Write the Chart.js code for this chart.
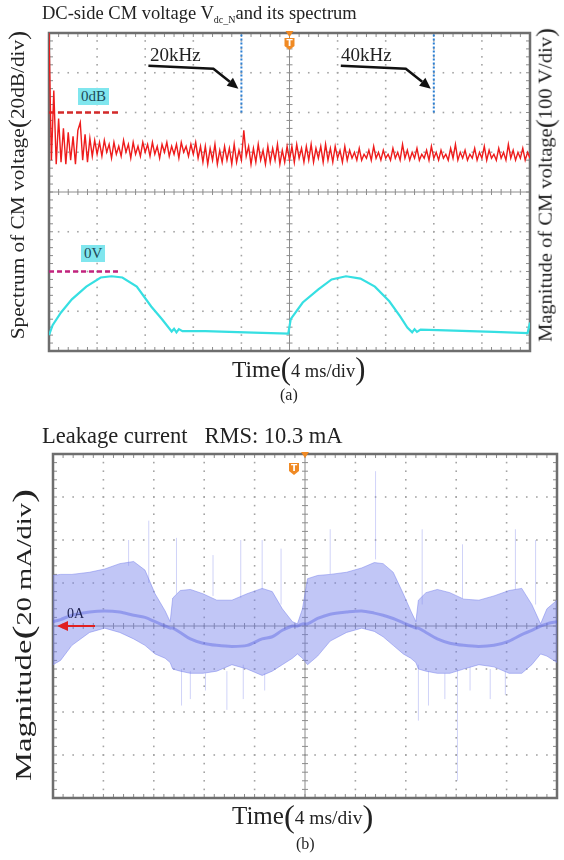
<!DOCTYPE html>
<html>
<head>
<meta charset="utf-8">
<script src="https://cdn.jsdelivr.net/npm/chart.js@4.4.1/dist/chart.umd.min.js"></script>
<style>
  body { margin:0; background:#fff; width:564px; height:860px; position:relative; overflow:hidden;
         font-family:"Liberation Serif","Times New Roman",serif; color:#222; }
  .abs { position:absolute; white-space:nowrap; line-height:1; }
  .par { font-size:1.3em; vertical-align:-0.08em; }
  .tag { background:#80e6ee; color:#1d4a58; padding:1px 3px; }
  #wrapA { position:absolute; left:0; top:0; width:564px; height:360px; }
  #wrapB { position:absolute; left:0; top:440px; width:564px; height:370px; }
</style>
</head>
<body>
<div id="wrapA"><canvas id="chartA"></canvas></div>
<div id="wrapB"><canvas id="chartB"></canvas></div>

<div class="abs" style="left:42px; top:4px; font-size:18.5px;">DC-side CM voltage V<sub style="font-size:10px; vertical-align:-4px;">dc_N</sub>and its spectrum</div>
<div class="abs" style="left:18px; top:185px; font-size:19px; transform:translate(-50%,-50%) rotate(-90deg) scaleX(1.12);">Spectrum of CM voltage<span class="par">(</span>20dB/div<span class="par">)</span></div>
<div class="abs" style="left:546px; top:185px; font-size:19px; transform:translate(-50%,-50%) rotate(-90deg) scaleX(1.08);">Magnitude of CM voltage<span class="par">(</span>100 V/div<span class="par">)</span></div>
<div class="abs" style="left:150px; top:45px; font-size:19px;">20kHz</div>
<div class="abs" style="left:341px; top:45px; font-size:19px;">40kHz</div>
<div class="abs tag" style="left:78px; top:88px; font-size:15px;">0dB</div>
<div class="abs tag" style="left:81px; top:245px; font-size:15px;">0V</div>
<div class="abs" style="left:232px; top:354px; font-size:23.5px;">Time<span class="par">(</span><span style="font-size:18.5px">4 ms/div</span><span class="par">)</span></div>
<div class="abs" style="left:280px; top:387px; font-size:16px;">(a)</div>

<div class="abs" style="left:42px; top:425px; font-size:22.5px;">Leakage current &nbsp;&nbsp;RMS: 10.3 mA</div>
<div class="abs" style="left:23px; top:635px; font-size:23px; transform:translate(-50%,-50%) rotate(-90deg) scaleX(1.42);">Magnitude<span class="par">(</span><span style="font-size:20px">20 mA/div</span><span class="par">)</span></div>
<div class="abs" style="left:67px; top:607px; font-size:14px; color:#1c2050;">0A</div>
<div class="abs" style="left:232px; top:800px; font-size:25px;">Time<span class="par">(</span><span style="font-size:19.5px">4 ms/div</span><span class="par">)</span></div>
<div class="abs" style="left:296px; top:836px; font-size:16px;">(b)</div>

<script>
// ---- (a) spectrum of DC-side CM voltage, dB, FFT bins 0.25 kHz apart (0..50 kHz)
const specDf = 0.25;
const specDb = [
  40, -24, 11, -26, -3, -25, -8, -26, -10, -24, -12, -26, -9, -5, -24, -11, -25, -13, -22, -14,
  -21, -15, -22, -14, -20, -16, -23, -15, -21, -17, -22, -14, -20, -16, -23, -15, -21, -17, -22, -15,
  -20, -16, -22, -15, -21, -17, -23, -16, -20, -15, -22, -17, -21, -16, -23, -15, -20, -17, -22, -16, -21, -15, -23, -17,
  -25, -17, -26, -18, -24, -16, -26, -19, -25, -17, -24, -18, -26, -16, -25, -19, -24, -9, -22, -17,
  -26, -18, -25, -16, -24, -19, -26, -17, -25, -18, -24, -16, -26, -19, -25, -17,
  -24, -17, -25, -16, -23, -18, -25, -17, -24, -16, -25, -18, -23, -17, -25, -16, -24, -18, -25, -17, -23, -19, -25, -17,
  -24, -19, -23, -20, -24, -18, -24, -21, -23, -19, -24, -17, -23, -20, -24, -19, -23, -21, -24, -18,
  -23, -20, -24, -16, -23, -19, -24, -20, -23, -18, -24, -21, -23, -19, -24, -17, -23, -20, -24, -19,
  -23, -21, -24, -18, -23, -16, -24, -20, -23, -19, -24, -21, -23, -18, -24, -20, -23, -17, -24, -19,
  -23, -21, -24, -18, -23, -20, -24, -16, -23, -19, -24, -20, -23, -18, -24, -20, -23
];
const markerKHz = [20, 40];

// ---- (a) CM voltage in time, ms / V
const cmT = [0, 0.3, 1.0, 1.9, 3.1, 4.3, 5.2, 6.1, 7.3, 8.5, 9.4, 10.2, 10.4, 10.6, 10.8, 11.1, 13, 15, 17, 19.9,
             20.1, 21.1, 22.4, 23.5, 24.7, 25.9, 27.1, 28.3, 29.2, 29.8, 30.2, 30.4, 30.6, 30.9, 33, 35, 37, 39.8, 40];
const cmV = [-160, -135, -103, -70, -38, -15, -12, -15, -38, -88, -120, -151, -144, -153, -145, -150, -150, -152, -154, -156,
             -120, -78, -45, -20, -12, -18, -38, -75, -113, -141, -153, -145, -152, -146, -148, -150, -152, -155, -128];

// ---- (b) leakage current envelope, ms / mA
const leakT = [0, 0.6, 1.5, 2.9, 4.1, 5.3, 6.4, 7.3, 8.1, 8.9, 9.3, 9.5, 10.1, 10.9, 11.9, 13.0, 14.2, 15.4, 16.6, 17.4, 18.2, 19.0, 19.4, 19.8,
               20.2, 21.0, 22.0, 23.3, 24.5, 25.5, 26.2, 27.0, 27.8, 28.4, 28.8, 29.0, 29.6, 30.5, 31.5, 32.6, 33.8, 35.0, 36.2, 37.2, 38.0, 38.7, 39.2, 40.0];
const leakHi = [23.5, 24, 24, 25, 26.5, 29, 30, 26, 15, 7, 2, 13, 16.5, 17, 15, 12, 12, 15, 17.5, 16, 8, 2, 1, 8,
                22, 23.5, 24, 25, 27, 29.5, 29, 25, 15, 7, 2, 12, 15.5, 17, 15.5, 12.5, 12, 14, 16.5, 17.5, 10, 1, 8, 12];
const leakLo = [-18, -16, -9, -3, -1, -3, -6, -9, -13, -15, -17, -20, -21, -22, -22, -21, -18, -20, -23, -21, -18, -15, -13, -15,
                -18, -14, -7, -3, -1, -2.5, -5, -9, -13, -15, -17, -20, -21, -22, -22, -20, -18, -19, -22, -22, -18, -13, -14, -17];
const leakMid = [2, 3, 5, 6.5, 7, 6.5, 5, 4, 2, 0, -1, -1, -3, -6, -8, -9, -9.5, -9, -6, -5, -2, 0, 0, 1,
                 1, 3.5, 5.5, 6.5, 7, 6, 5, 3.5, 1.5, 0, -1, -1, -3, -6, -8, -9, -9.5, -9, -7, -4, -2, 0, 1, 2];
// isolated spikes
const spikeT  = [6.0, 7.6, 9.8, 12.7, 14.9, 16.6, 18.1, 22.0, 25.6, 29.3, 32.5, 36.7, 38.3,
                 10.2, 10.9, 12.1, 13.8, 15.1, 16.8, 29.0, 29.8, 31.1, 32.1, 33.1, 34.7, 35.9];
const spikeLo = [28, 20, 15, 14, 13, 17, 10, 24, 31, 10, 13, 17, 10,
                 -37, -34, -30, -39, -34, -30, -44, -37, -34, -72, -30, -34, -32];
const spikeHi = [40, 49, 41, 33, 40, 40, 36, 45, 72, 45, 38, 45, 40,
                 -20, -21, -22, -21, -18, -22, -18, -21, -22, -20, -19, -20, -21];

const xy = (xs, ys) => xs.map((x, i) => ({ x, y: ys[i] }));

function drawGraticule(chart) {
  const { ctx, chartArea: { left, top, right, bottom } } = chart;
  const dx = (right - left) / 10, dy = (bottom - top) / 8;
  const cx = left + 5 * dx, cy = top + 4 * dy;
  ctx.save();
  ctx.fillStyle = '#a4a4a4';
  for (let i = 1; i < 10; i++) {
    if (i === 5) continue;
    for (let j = 1; j < 40; j++) ctx.fillRect(left + i * dx - 0.8, top + j * dy / 5 - 0.8, 1.6, 1.6);
  }
  for (let i = 1; i < 8; i++) {
    if (i === 4) continue;
    for (let j = 1; j < 50; j++) ctx.fillRect(left + j * dx / 5 - 0.8, top + i * dy - 0.8, 1.6, 1.6);
  }
  ctx.strokeStyle = '#8c8c8c';
  ctx.lineWidth = 1;
  ctx.beginPath();
  ctx.moveTo(cx, top); ctx.lineTo(cx, bottom);
  ctx.moveTo(left, cy); ctx.lineTo(right, cy);
  for (let j = 1; j < 50; j++) {
    const x = left + j * dx / 5;
    ctx.moveTo(x, cy - 3); ctx.lineTo(x, cy + 3);
    ctx.moveTo(x, top); ctx.lineTo(x, top + 4);
    ctx.moveTo(x, bottom); ctx.lineTo(x, bottom - 4);
  }
  for (let j = 1; j < 40; j++) {
    const y = top + j * dy / 5;
    ctx.moveTo(cx - 3, y); ctx.lineTo(cx + 3, y);
    ctx.moveTo(left, y); ctx.lineTo(left + 4, y);
    ctx.moveTo(right, y); ctx.lineTo(right - 4, y);
  }
  ctx.stroke();
  ctx.strokeStyle = '#6e6e6e';
  ctx.lineWidth = 2.5;
  ctx.strokeRect(left, top, right - left, bottom - top);
  ctx.restore();
}

function drawTrigger(chart, ix, iy) {
  const { ctx, chartArea: { left, right, top } } = chart;
  const cx = (left + right) / 2;
  ctx.save();
  ctx.fillStyle = '#f08a24';
  ctx.beginPath();
  ctx.moveTo(cx - 4, top - 2); ctx.lineTo(cx + 4, top - 2); ctx.lineTo(cx, top + 4); ctx.closePath();
  ctx.fill();
  ctx.beginPath();
  ctx.moveTo(ix - 5, iy); ctx.lineTo(ix + 5, iy); ctx.lineTo(ix + 5, iy + 8);
  ctx.lineTo(ix, iy + 12); ctx.lineTo(ix - 5, iy + 8); ctx.closePath();
  ctx.fill();
  ctx.fillStyle = '#fff';
  ctx.font = 'bold 9px "DejaVu Sans"';
  ctx.textAlign = 'center';
  ctx.textBaseline = 'top';
  ctx.fillText('T', ix, iy + 1);
  ctx.restore();
}

function arrow(ctx, pts, color, w) {
  ctx.save();
  ctx.strokeStyle = color; ctx.fillStyle = color; ctx.lineWidth = w;
  const n = pts.length;
  const [tx, ty] = pts[n - 1], [px, py] = pts[n - 2];
  const a = Math.atan2(ty - py, tx - px), L = 11, W = 5;
  ctx.beginPath();
  ctx.moveTo(pts[0][0], pts[0][1]);
  for (let i = 1; i < n - 1; i++) ctx.lineTo(pts[i][0], pts[i][1]);
  ctx.lineTo(tx - L * Math.cos(a), ty - L * Math.sin(a));
  ctx.stroke();
  ctx.beginPath();
  ctx.moveTo(tx, ty);
  ctx.lineTo(tx - L * Math.cos(a) + W * Math.sin(a), ty - L * Math.sin(a) - W * Math.cos(a));
  ctx.lineTo(tx - L * Math.cos(a) - W * Math.sin(a), ty - L * Math.sin(a) + W * Math.cos(a));
  ctx.closePath();
  ctx.fill();
  ctx.restore();
}

const hidden = (min, max) => ({ type: 'linear', display: false, min, max });

const scopeA = {
  id: 'scopeA',
  beforeDatasetsDraw: chart => drawGraticule(chart),
  afterDatasetsDraw(chart) {
    const { ctx, scales: { xf, yDb } } = chart;
    markerKHz.forEach(k => {
      const tx = xf.getPixelForValue(k) - 3, ty = yDb.getPixelForValue(12);
      arrow(ctx, [[tx - 90, ty - 23], [tx - 25, ty - 20], [tx, ty]], '#111', 2.5);
    });
    drawTrigger(chart, (chart.chartArea.left + chart.chartArea.right) / 2, chart.chartArea.top + 5);
  }
};

const scopeB = {
  id: 'scopeB',
  beforeDatasetsDraw: chart => drawGraticule(chart),
  afterDatasetsDraw(chart) {
    const { ctx, scales: { y }, chartArea: { left } } = chart;
    const y0 = y.getPixelForValue(0);
    arrow(ctx, [[left + 42, y0], [left + 4, y0]], '#e02020', 2);
    drawTrigger(chart, (chart.chartArea.left + chart.chartArea.right) / 2 - 11, chart.chartArea.top + 9);
  }
};

new Chart(document.getElementById('chartA'), {
  type: 'line',
  data: {
    datasets: [
      { data: specDb.map((v, i) => ({ x: i * specDf, y: v })), xAxisID: 'xf', yAxisID: 'yDb',
        borderColor: '#ee1c1c', borderWidth: 1.4 },
      { data: xy(cmT, cmV), xAxisID: 'x', yAxisID: 'yV', borderColor: '#36dfe2', borderWidth: 2.2 },
      { data: [{ x: 0, y: 0 }, { x: 7.2, y: 0 }], xAxisID: 'xf', yAxisID: 'yDb',
        borderColor: '#d42a2a', borderWidth: 2.5, borderDash: [6, 3] },
      { data: [{ x: 0, y: 0 }, { x: 5.75, y: 0 }], xAxisID: 'x', yAxisID: 'yV',
        borderColor: '#c2237e', borderWidth: 2.5, borderDash: [5, 3] },
      ...markerKHz.map(k => ({ data: [{ x: k, y: 0 }, { x: k, y: 40 }], xAxisID: 'xf', yAxisID: 'yDb',
        borderColor: '#2a7fd4', borderWidth: 2, borderDash: [2, 2] }))
    ]
  },
  options: {
    responsive: true, maintainAspectRatio: false, animation: false,
    layout: { padding: { left: 49, top: 33, right: 34, bottom: 9 } },
    elements: { point: { radius: 0 }, line: { tension: 0 } },
    plugins: { legend: { display: false }, tooltip: { enabled: false } },
    scales: { x: hidden(0, 40), xf: hidden(0, 50), yV: hidden(-200, 600), yDb: hidden(-120, 40) }
  },
  plugins: [scopeA]
});

const spikes = [];
spikeT.forEach((t, i) => spikes.push({ x: t, y: spikeLo[i] }, { x: t, y: spikeHi[i] }, { x: t, y: null }));

new Chart(document.getElementById('chartB'), {
  type: 'line',
  data: {
    datasets: [
      { data: spikes, borderColor: 'rgba(120,130,235,0.35)', borderWidth: 1, spanGaps: false },
      { data: xy(leakT, leakHi), borderColor: 'rgba(120,130,235,0.5)', borderWidth: 1 },
      { data: xy(leakT, leakLo), borderColor: 'rgba(120,130,235,0.5)', borderWidth: 1,
        fill: 1, backgroundColor: 'rgba(118,128,236,0.45)' },
      { data: xy(leakT, leakMid), borderColor: 'rgba(45,55,215,0.4)', borderWidth: 3, tension: 0.3 }
    ]
  },
  options: {
    responsive: true, maintainAspectRatio: false, animation: false,
    layout: { padding: { left: 53, top: 14, right: 7, bottom: 12 } },
    elements: { point: { radius: 0 }, line: { tension: 0 } },
    plugins: { legend: { display: false }, tooltip: { enabled: false } },
    scales: { x: hidden(0, 40), y: hidden(-80, 80) }
  },
  plugins: [scopeB]
});
</script>
</body>
</html>
